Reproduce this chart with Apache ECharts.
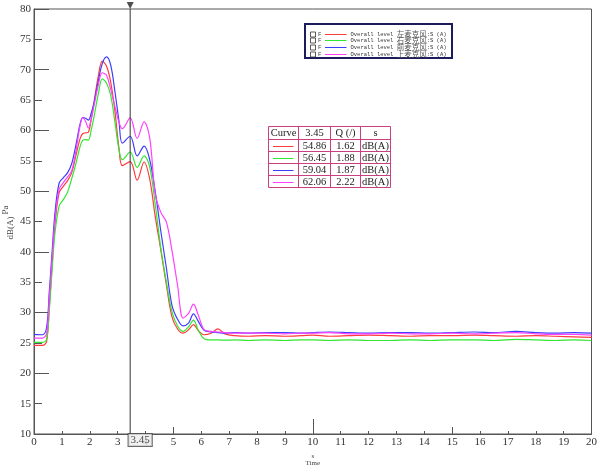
<!DOCTYPE html>
<html>
<head>
<meta charset="utf-8">
<script src="https://cdn.jsdelivr.net/npm/echarts@6/dist/echarts.min.js"></script>
<style>
html,body{margin:0;padding:0;background:#fff;}
#c{width:600px;height:472px;}
</style>
</head>
<body>
<div id="c"></div>
<script>
// ---- data ----
const times = [0, 0.3, 0.45, 0.55, 0.65, 0.75, 0.9, 1.05, 1.2, 1.35, 1.5, 1.65, 1.75, 1.85, 1.95, 2.05, 2.15, 2.3, 2.45, 2.6,
  2.75, 2.9, 3.05, 3.17, 3.45, 3.7, 3.95, 4.15, 4.35, 4.55, 4.75, 4.95, 5.15, 5.35, 5.55, 5.72, 5.9, 6.1, 6.35, 6.6, 6.85,
  7.2, 7.7, 8.3, 9, 9.6, 10, 10.6, 11.3, 12, 12.8, 13.5, 14.2, 15, 15.8, 16.5, 17.3, 18, 18.7, 19.4, 20];
const leftMic = [24.6, 24.6, 25.2, 31, 38, 44.5, 49.7, 50.8, 51.7, 53, 55.8, 58.6, 59.5, 59.6, 59.7, 61.8, 64.5, 68.8, 71.4, 70.6,
  68.0, 63.3, 57.0, 54.2, 54.86, 51.8, 54.8, 52, 45.8, 40.3, 34.5, 29.3, 27.3, 26.6, 27.2, 28.0, 27.0, 26.35, 26.6, 27.3, 26.5,
  26.2, 26.1, 26.2, 26.1, 26.2, 26.3, 26.1, 26.2, 26.3, 26.2, 26.1, 26.2, 26.2, 26.3, 26.2, 26.1, 26.2, 26.1, 26.0, 25.9];
const rightMic = [25.1, 25.1, 25.6, 30.5, 37, 43, 47.5, 48.6, 49.8, 52, 54.5, 57.3, 58.4, 58.5, 58.4, 60, 62.2, 65.8, 68.5, 67.8,
  65.8, 61.5, 56.8, 55.2, 56.45, 53.9, 55.8, 54, 47.8, 40.6, 35, 30.1, 27.8, 26.9, 27.7, 28.75, 27, 25.7, 25.5, 25.5, 25.45,
  25.5, 25.4, 25.5, 25.4, 25.5, 25.5, 25.4, 25.5, 25.4, 25.4, 25.5, 25.4, 25.5, 25.5, 25.4, 25.6, 25.5, 25.4, 25.5, 25.4];
const frontMic = [26.4, 26.35, 27.5, 33.5, 40, 46.3, 51.3, 52.2, 53.0, 54.5, 57.5, 61, 62.1, 62.0, 61.7, 62.8, 64.5, 68, 71, 72.1,
  70.8, 66.5, 61.5, 57.9, 59.04, 55.8, 57.4, 55.2, 49.9, 43.4, 37.3, 31.2, 28.9, 27.8, 28.3, 29.8, 28.5, 27.1, 26.8, 26.7, 26.6,
  26.7, 26.6, 26.7, 26.7, 26.6, 26.7, 26.8, 26.7, 26.6, 26.7, 26.7, 26.6, 26.7, 26.8, 26.7, 26.9, 26.7, 26.6, 26.7, 26.6];
const topMic = [25.8, 25.8, 26.5, 32.5, 39, 45, 50.3, 51.4, 52.3, 53.3, 56.5, 60.7, 62.1, 61.5, 60.4, 61.8, 64, 67.3, 69.5, 69.1,
  66.8, 64.0, 61.3, 60.3, 62.06, 58.7, 61.4, 58.8, 49.5, 46.5, 44.9, 40.2, 34.5, 29.1, 29.9, 31.4, 29.5, 27.2, 26.9, 26.8, 26.7,
  26.6, 26.6, 26.6, 26.5, 26.6, 26.6, 26.7, 26.5, 26.5, 26.6, 26.5, 26.5, 26.6, 26.5, 26.6, 26.7, 26.5, 26.4, 26.4, 26.3];
const seriesNames = ['Overall level 左麦克风:S (A)', 'Overall level 右麦克风:S (A)', 'Overall level 前麦克风:S (A)', 'Overall level 上麦克风:S (A)'];
const seriesColors = ['#ff3b3b', '#33e633', '#3d3dff', '#ff40ff'];
const cursorTime = 3.45;
const cursorValues = ['54.86', '56.45', '59.04', '62.06'];
const qValues = ['1.62', '1.88', '1.87', '2.22'];
const tableHeader = ['Curve', '3.45', 'Q (/)', 's'];
const unitText = 'dB(A)';
const yNameLines = ['Pa', 'dB(A)'];
const xNameText = 's\nTime';

// ---- chart ----
const allSeries = [leftMic, rightMic, frontMic, topMic];
const chart = echarts.init(document.getElementById('c'), null, {renderer: 'canvas'});
const axisCol = '#555';
const serif = '"Liberation Serif","Noto Sans CJK SC",serif';
const mono = '"Liberation Mono","Noto Sans CJK SC",monospace';

const lineSeries = allSeries.map((arr, i) => ({
  type: 'line', name: seriesNames[i], xAxisIndex: 0, yAxisIndex: 0,
  data: times.map((t, k) => [t, arr[k]]),
  showSymbol: false, smooth: 0.35, z: 3 + i,
  lineStyle: {color: seriesColors[i], width: 1.2}, itemStyle: {color: seriesColors[i]}
}));

// split a name into ascii / CJK runs for rich text
function richName(n) {
  return n.replace(/([\u4e00-\u9fff]+)/g, '{c|$1}').split(/(\{c\|[^}]*\})/).map(p => p.startsWith('{c|') ? p : (p ? '{a|' + p + '}' : '')).join('');
}

// graphic: legend box
const graphics = [];
const lgX = 305, lgY = 24, lgW = 147, lgH = 34;
graphics.push({type: 'rect', shape: {x: lgX, y: lgY, width: lgW, height: lgH}, style: {fill: '#fff', stroke: '#1c1c5c', lineWidth: 2}, z: 100});
seriesNames.forEach((n, i) => {
  const cy = Math.round(lgY + 9.5 + i * 6.9) + 0.5;
  graphics.push({type: 'rect', shape: {x: 310.5, y: cy - 2.5, width: 5, height: 5}, style: {fill: '#fff', stroke: '#333', lineWidth: 0.8}, z: 101});
  graphics.push({type: 'text', x: 318, y: cy, style: {text: 'F', font: '6px ' + mono, fill: '#444', verticalAlign: 'middle'}, z: 101});
  graphics.push({type: 'line', shape: {x1: 325, y1: cy, x2: 346.5, y2: cy}, style: {stroke: seriesColors[i], lineWidth: 1}, z: 101});
  graphics.push({type: 'text', x: 350.5, y: cy, style: {text: richName(n), verticalAlign: 'middle',
    rich: {a: {fontSize: 5.5, fontFamily: mono, fill: '#333'}, c: {fontSize: 7.5, fontFamily: '"Noto Sans CJK SC"', fill: '#555'}}}, z: 101});
});

// graphic: value table
const colX = [268.5, 298.5, 330.5, 360.5, 390.5];
const rowY = [126.5, 139.5, 151.5, 163.5, 175.5, 187.5];
const tblCol = '#c8407f';
graphics.push({type: 'rect', shape: {x: colX[0], y: rowY[0], width: colX[4] - colX[0], height: rowY[5] - rowY[0]}, style: {fill: '#fff', stroke: tblCol, lineWidth: 1}, z: 100});
for (let c = 1; c < 4; c++) graphics.push({type: 'line', shape: {x1: colX[c], y1: rowY[0], x2: colX[c], y2: rowY[5]}, style: {stroke: tblCol, lineWidth: 1}, z: 101});
for (let r = 1; r < 5; r++) graphics.push({type: 'line', shape: {x1: colX[0], y1: rowY[r], x2: colX[4], y2: rowY[r]}, style: {stroke: tblCol, lineWidth: 1}, z: 101});
const cellText = (txt, c, r) => ({type: 'text', x: (colX[c] + colX[c + 1]) / 2, y: (rowY[r] + rowY[r + 1]) / 2 + 0.5,
  style: {text: txt, font: '10.5px ' + serif, fill: '#222', align: 'center', verticalAlign: 'middle'}, z: 102});
tableHeader.forEach((h, c) => graphics.push(cellText(h, c, 0)));
seriesNames.forEach((n, i) => {
  const cy = Math.round((rowY[i + 1] + rowY[i + 2]) / 2) + 0.5;
  graphics.push({type: 'line', shape: {x1: 273, y1: cy, x2: 293.5, y2: cy}, style: {stroke: seriesColors[i], lineWidth: 1}, z: 102});
  graphics.push(cellText(cursorValues[i], 1, i + 1));
  graphics.push(cellText(qValues[i], 2, i + 1));
  graphics.push(cellText(unitText, 3, i + 1));
});
// y axis name
graphics.push({type: 'text', x: 5.5, y: 210, rotation: Math.PI / 2, style: {text: yNameLines[0], font: '9px ' + serif, fill: '#444', align: 'center', verticalAlign: 'middle'}});
graphics.push({type: 'text', x: 11, y: 228, rotation: Math.PI / 2, style: {text: yNameLines[1], font: '9px ' + serif, fill: '#444', align: 'center', verticalAlign: 'middle'}});

const baseX = {type: 'value', min: 0, max: 20, position: 'bottom', splitLine: {show: false}};
const baseY = {type: 'value', min: 10, max: 80, position: 'left', splitLine: {show: false}};

chart.setOption({
  animation: false,
  backgroundColor: '#fff',
  grid: {left: 34, right: 3.5, top: 9, bottom: 27, show: true, borderColor: axisCol, borderWidth: 1, backgroundColor: 'transparent'},
  xAxis: [
    Object.assign({}, baseX, {interval: 1,
      axisLine: {lineStyle: {color: axisCol}},
      axisTick: {inside: true, length: 3, lineStyle: {color: axisCol}},
      axisLabel: {margin: 3, fontSize: 11, fontFamily: serif, color: '#333'},
      name: xNameText, nameLocation: 'middle', nameGap: 19,
      nameTextStyle: {fontSize: 7, lineHeight: 7, fontFamily: serif, color: '#444'}}),
    Object.assign({}, baseX, {interval: 5, axisLine: {show: false}, axisLabel: {show: false},
      axisTick: {inside: true, length: 7, lineStyle: {color: axisCol}}}),
    Object.assign({}, baseX, {interval: 10, axisLine: {show: false}, axisLabel: {show: false},
      axisTick: {inside: true, length: 15, lineStyle: {color: axisCol}}})
  ],
  yAxis: [
    Object.assign({}, baseY, {interval: 5,
      axisLine: {show: true, lineStyle: {color: axisCol}},
      axisTick: {show: true, inside: true, length: 8, lineStyle: {color: axisCol}},
      axisLabel: {margin: 3, fontSize: 11, fontFamily: serif, color: '#333'}}),
    Object.assign({}, baseY, {interval: 10, axisLine: {show: false}, axisLabel: {show: false},
      axisTick: {show: true, inside: true, length: 15, lineStyle: {color: axisCol}}})
  ],
  series: lineSeries.concat([
    {type: 'line', xAxisIndex: 0, yAxisIndex: 0, data: [[cursorTime, 10], [cursorTime, 80]], showSymbol: false,
      lineStyle: {color: '#333', width: 1}, z: 20, silent: true},
    {type: 'scatter', xAxisIndex: 0, yAxisIndex: 0, data: [[cursorTime, 80]], symbol: 'triangle', symbolRotate: 180,
      symbolSize: [7, 7], symbolOffset: [0, -3.5], itemStyle: {color: '#222'}, clip: false, z: 21},
    {type: 'scatter', xAxisIndex: 0, yAxisIndex: 0, data: [[cursorTime, 10]], symbolSize: 1, itemStyle: {color: 'transparent'}, z: 22,
      label: {show: true, position: 'top', distance: 0, offset: [10, 12.5], formatter: () => String(cursorTime), fontSize: 11, fontFamily: serif, color: '#222',
        backgroundColor: '#eeeeee', borderColor: '#444', borderWidth: 1, padding: [1, 2, 0, 2], lineHeight: 11}}
  ]),
  graphic: graphics
});
</script>
</body>
</html>
